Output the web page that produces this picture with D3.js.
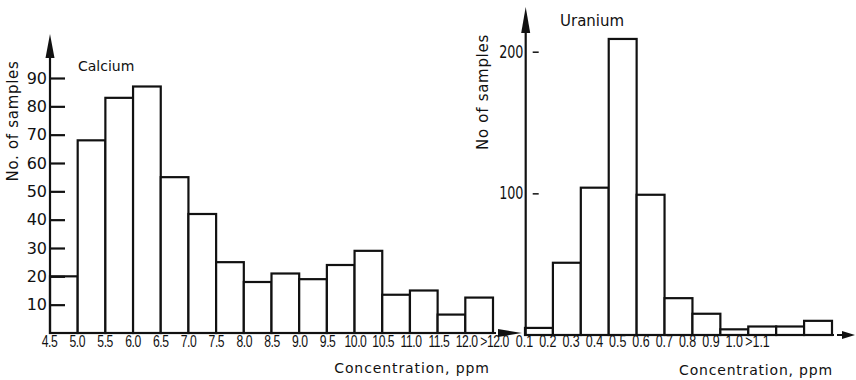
<!DOCTYPE html>
<html>
<head>
<meta charset="utf-8">
<script src="https://cdn.jsdelivr.net/npm/d3@7"></script>
<style>
  body { margin: 0; background: #fff; }
  text { font-family: "DejaVu Sans", sans-serif; fill: #111; }
  .xtick text { font-family: "Liberation Sans", Arial, sans-serif; }
</style>
</head>
<body>
<svg id="chart" width="856" height="380"></svg>
<script>
// Calcium histogram (bin edges 4.5 .. 12.0, plus an open ">12.0" bin)
const caEdges = ["4.5", "5.0", "5.5", "6.0", "6.5", "7.0", "7.5", "8.0", "8.5",
                 "9.0", "9.5", "10.0", "10.5", "11.0", "11.5", "12.0", ">12.0"];
const caCounts = [20, 68, 83, 87, 55, 42, 25, 18, 21, 19, 24, 29, 13.5, 15, 6.5, 12.5];
const caTicks = [10, 20, 30, 40, 50, 60, 70, 80, 90];

// Uranium histogram
const uLabels = ["0.1", "0.2", "0.3", "0.4", "0.5", "0.6", "0.7", "0.8", "0.9", "1.0", ">1.1"];
const uCounts = [5, 51, 104, 209, 99, 26, 15, 4, 6, 6, 10];
const uTicks = [100, 200];

const INK = '#111';
const LW = 2.2;
const svg = d3.select('#chart');

function drawBars(g, x, y, counts) {
  g.selectAll('rect.bar')
    .data(counts)
    .join('rect')
      .attr('class', 'bar')
      .attr('x', (d, i) => x(i))
      .attr('y', d => y(d))
      .attr('width', x.bandwidth())
      .attr('height', d => y(0) - y(d))
      .attr('fill', '#fff')
      .attr('stroke', INK)
      .attr('stroke-width', LW);
}

function arrowUp(g, x, tip, base) {
  g.append('path')
    .attr('d', `M${x - 4.5},${base}L${x},${tip}L${x + 4.5},${base}Z`)
    .attr('fill', INK);
}

function arrowRight(g, y, base, tip) {
  g.append('path')
    .attr('d', `M${base},${y - 4}L${tip},${y}L${base},${y + 4}Z`)
    .attr('fill', INK);
}

// ---- Calcium ----
const ca = svg.append('g');
const caX = d3.scaleBand().domain(d3.range(caCounts.length)).range([50, 493]);
const caEdgeX = d3.scalePoint().domain(caEdges).range([49, 494]);
const caY = d3.scaleLinear().domain([0, 90]).range([333, 78]);

drawBars(ca, caX, caY, caCounts);

// y axis, ticks pointing inward
const caYAxis = ca.append('g')
  .attr('transform', `translate(${caX.range()[0]},0)`)
  .call(d3.axisLeft(caY).tickValues(caTicks).tickSizeInner(-15).tickSizeOuter(0).tickPadding(3));
caYAxis.select('.domain').remove();
caYAxis.selectAll('line').attr('stroke', INK).attr('stroke-width', LW);
caYAxis.selectAll('text').style('font-size', '16px').attr('fill', INK);

ca.append('line')
  .attr('x1', 50).attr('x2', 50).attr('y1', 56).attr('y2', caY(0) + 1)
  .attr('stroke', INK).attr('stroke-width', LW);
arrowUp(ca, 50, 34, 58);

// x baseline + arrow
ca.append('line')
  .attr('x1', 49).attr('x2', 493).attr('y1', caY(0)).attr('y2', caY(0))
  .attr('stroke', INK).attr('stroke-width', LW);
ca.append('line')
  .attr('x1', 493).attr('x2', 500).attr('y1', caY(0)).attr('y2', caY(0))
  .attr('stroke', INK).attr('stroke-width', LW).attr('stroke-dasharray', '3 2');
arrowRight(ca, caY(0), 498, 522);

const caXAxis = ca.append('g')
  .attr('class', 'xtick')
  .attr('transform', `translate(0,${caY(0)})`)
  .call(d3.axisBottom(caEdgeX).tickSize(0).tickPadding(3));
caXAxis.select('.domain').remove();
caXAxis.selectAll('text')
  .style('font-size', '16px')
  .style('letter-spacing', '-0.6px')
  .attr('transform', 'scale(0.76,1)')
  .attr('fill', INK);

ca.append('text')
  .attr('x', 78).attr('y', 71)
  .style('font-size', '14px')
  .text('Calcium');

ca.append('text')
  .attr('transform', 'translate(18,121) rotate(-90)')
  .attr('text-anchor', 'middle')
  .style('font-size', '15px')
  .style('letter-spacing', '0.7px')
  .text('No. of samples');

ca.append('text')
  .attr('x', 412).attr('y', 373)
  .attr('text-anchor', 'middle')
  .style('font-size', '14px')
  .style('letter-spacing', '0.9px')
  .text('Concentration, ppm');

// ---- Uranium ----
const ur = svg.append('g');
const uX = d3.scaleBand().domain(d3.range(uCounts.length)).range([525, 832]);
const uLabelX = d3.scalePoint().domain(uLabels).range([524, 757]);
const uY = d3.scaleLinear().domain([0, 200]).range([335, 51.7]);

drawBars(ur, uX, uY, uCounts);

const uYAxis = ur.append('g')
  .attr('transform', `translate(525.7,0)`)
  .call(d3.axisLeft(uY).tickValues(uTicks).tickSizeInner(-13).tickSizeOuter(0).tickPadding(3));
uYAxis.select('.domain').remove();
uYAxis.selectAll('line').attr('x1', 7).attr('stroke', INK).attr('stroke-width', 1.5);
uYAxis.selectAll('text')
  .style('font-size', '17px')
  .attr('transform', 'scale(0.75,1)')
  .attr('fill', INK);

ur.append('line')
  .attr('x1', 525.7).attr('x2', 525.7).attr('y1', 31).attr('y2', uY(0) + 1)
  .attr('stroke', INK).attr('stroke-width', LW);
arrowUp(ur, 525.7, 7, 33);

ur.append('line')
  .attr('x1', 525).attr('x2', 845).attr('y1', uY(0)).attr('y2', uY(0))
  .attr('stroke', INK).attr('stroke-width', LW).attr('stroke-dasharray', '9 3');
arrowRight(ur, uY(0), 842, 855);

const uXAxis = ur.append('g')
  .attr('class', 'xtick')
  .attr('transform', `translate(0,${uY(0)})`)
  .call(d3.axisBottom(uLabelX).tickSize(0).tickPadding(1));
uXAxis.select('.domain').remove();
uXAxis.selectAll('text')
  .style('font-size', '16px')
  .attr('transform', 'scale(0.78,1)')
  .attr('fill', INK);

ur.append('text')
  .attr('x', 560).attr('y', 26)
  .style('font-size', '15px')
  .text('Uranium');

ur.append('text')
  .attr('transform', 'translate(488,92) rotate(-90)')
  .attr('text-anchor', 'middle')
  .style('font-size', '15px')
  .style('letter-spacing', '0.7px')
  .text('No of samples');

ur.append('text')
  .attr('x', 756).attr('y', 375)
  .attr('text-anchor', 'middle')
  .style('font-size', '14px')
  .style('letter-spacing', '0.8px')
  .text('Concentration, ppm');
</script>
</body>
</html>
